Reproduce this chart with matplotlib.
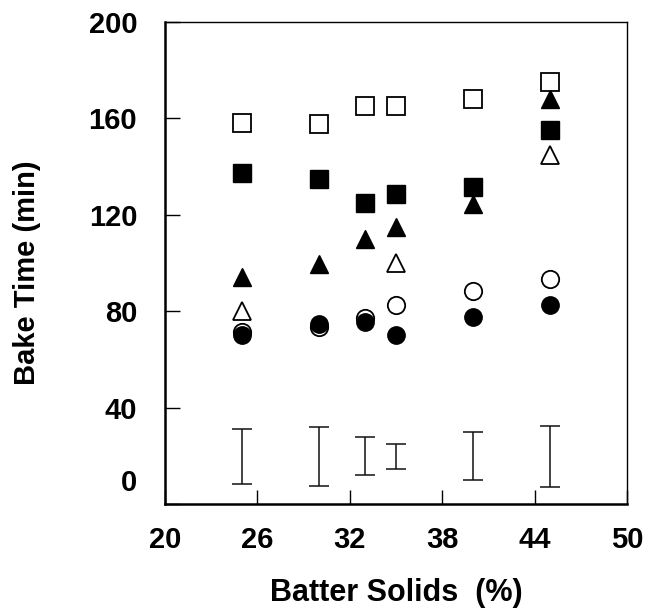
import matplotlib
matplotlib.use("Agg")
import matplotlib.pyplot as plt

# ---- data ----
solids = [25, 30, 33, 35, 40, 45]
open_square = [158, 157.5, 165, 165, 168, 175]
filled_square = [137.5, 135, 125, 128.5, 131.5, 155]
filled_triangle = [94, 99.5, 110, 115, 124.5, 168]
open_tri_x = [25, 35, 45]
open_triangle = [80, 100, 145]
open_circle = [71.5, 73.5, 77, 82.5, 88.5, 93.5]
filled_circle = [70, 74.5, 75.5, 70, 77.5, 82.5]
err_center = [20, 20, 20, 20, 20, 20]
err_low = [8.5, 7.5, 12, 14.5, 10, 7]
err_high = [31, 32, 28, 25, 30, 32.5]

xticks = [20, 26, 32, 38, 44, 50]
yticks = [0, 40, 80, 120, 160, 200]
ytick_labels = ["", "40", "80", "120", "160", "200"]

plt.rcParams['font.family'] = ['Liberation Sans', 'DejaVu Sans']
plt.rcParams['font.weight'] = 'bold'

fig = plt.figure(figsize=(6.46, 6.11), dpi=100)
ax = fig.add_axes([165/646, 1-504/611, (627-165)/646, (504-22)/611])

ms = 12.5
ax.plot(solids, open_square, 's', ms=ms, mfc='white', mec='black', mew=1.3, ls='none')
ax.plot(open_tri_x, open_triangle, '^', ms=ms, mfc='white', mec='black', mew=1.3, ls='none')
ax.plot(solids, open_circle, 'o', ms=ms, mfc='white', mec='black', mew=1.3, ls='none')
ax.plot(solids, filled_square, 's', ms=ms, mfc='black', mec='black', ls='none')
ax.plot(solids, filled_triangle, '^', ms=ms, mfc='black', mec='black', ls='none')
ax.plot(solids, filled_circle, 'o', ms=ms, mfc='black', mec='black', ls='none')

yerr = [[c - l for c, l in zip(err_center, err_low)],
        [h - c for c, h in zip(err_center, err_high)]]
ax.errorbar(solids, err_center, yerr=yerr, fmt='none', ecolor='#111111',
            elinewidth=1.1, capsize=7, capthick=1.1)

ax.set_xlim(20, 50)
ax.set_ylim(0, 200)
ax.set_xticks(xticks)
ax.set_xticklabels([str(t) for t in xticks], fontsize=21, fontweight='bold')
ax.set_yticks(yticks)
ax.set_yticklabels(ytick_labels, fontsize=21, fontweight='bold')
ax.tick_params(axis='x', direction='in', length=10, width=1, pad=16)
ax.tick_params(axis='y', direction='in', length=11, width=1, pad=20)

# "0" label shifted upward, as in the reference
ax.annotate(str(yticks[0]), xy=(0, yticks[0]), xycoords=ax.get_yaxis_transform(),
            xytext=(-20, 15), textcoords='offset points', ha='right', va='center',
            fontsize=21, fontweight='bold')

for s in ['left', 'bottom']:
    ax.spines[s].set_linewidth(1.8)
for s in ['top', 'right']:
    ax.spines[s].set_linewidth(1.0)

ax.set_xlabel("Batter Solids  (%)", fontsize=22, fontweight='bold', labelpad=17)
ax.set_ylabel("Bake Time (min)", fontsize=21, fontweight='bold')
ax.yaxis.set_label_coords(-0.268, 0.48)

fig.savefig("out.png", dpi=100)
